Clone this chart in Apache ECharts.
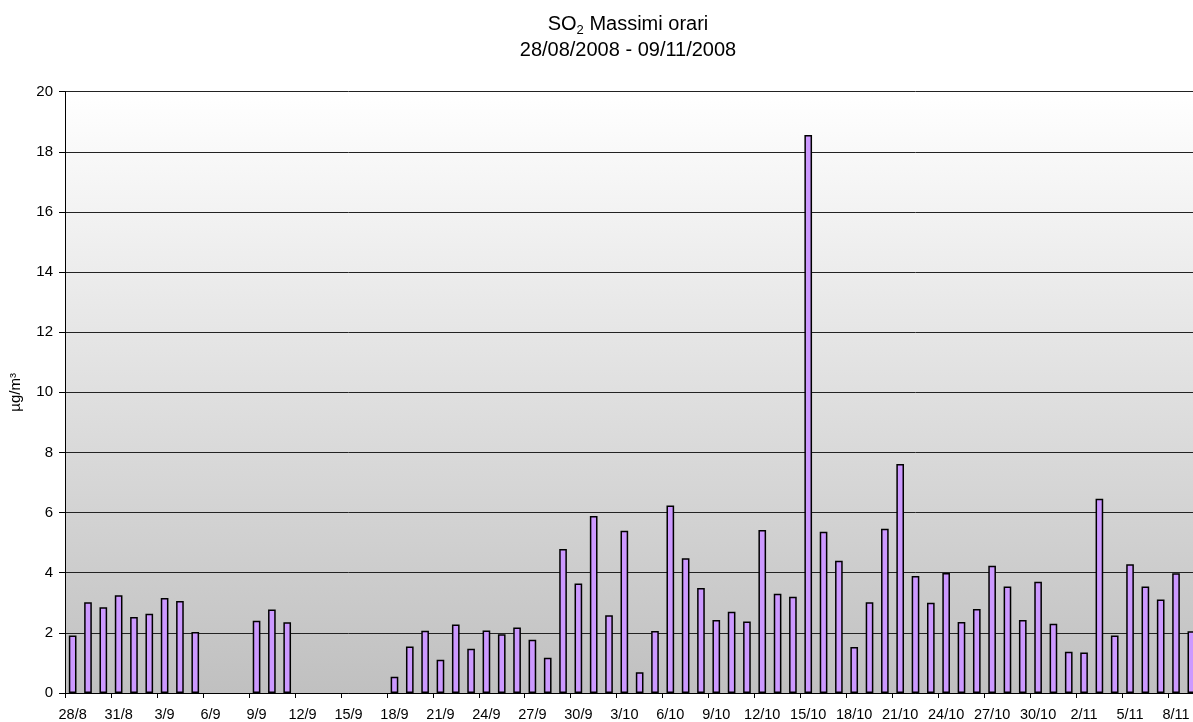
<!DOCTYPE html>
<html>
<head>
<meta charset="utf-8">
<script src="https://cdn.jsdelivr.net/npm/echarts@6/dist/echarts.min.js"></script>
<style>
html,body{margin:0;padding:0;background:#fff;overflow:hidden;width:1193px;height:722px;}
#chart{width:1200px;height:722px;}
</style>
</head>
<body>
<div id="chart"></div>
<script>
const categories = [
 '28/8','29/8','30/8','31/8',
 '1/9','2/9','3/9','4/9','5/9','6/9','7/9','8/9','9/9','10/9','11/9','12/9','13/9','14/9','15/9','16/9','17/9','18/9','19/9','20/9','21/9','22/9','23/9','24/9','25/9','26/9','27/9','28/9','29/9','30/9',
 '1/10','2/10','3/10','4/10','5/10','6/10','7/10','8/10','9/10','10/10','11/10','12/10','13/10','14/10','15/10','16/10','17/10','18/10','19/10','20/10','21/10','22/10','23/10','24/10','25/10','26/10','27/10','28/10','29/10','30/10','31/10',
 '1/11','2/11','3/11','4/11','5/11','6/11','7/11','8/11','9/11'
];
const so2Max = [
 1.91, 3.02, 2.85, 3.25,
 2.53, 2.64, 3.16, 3.06, 2.03, null, null, null, 2.40, 2.78, 2.35, null, null, null, null, null, null, 0.54, 1.55, 2.07, 1.11, 2.28, 1.47, 2.08, 1.95, 2.18, 1.77, 1.17, 4.79, 3.64,
 5.89, 2.59, 5.40, 0.69, 2.06, 6.24, 4.48, 3.49, 2.43, 2.70, 2.38, 5.42, 3.30, 3.20, 18.56, 5.36, 4.40, 1.53, 3.02, 5.46, 7.62, 3.89, 3.00, 3.99, 2.36, 2.79, 4.23, 3.54, 2.43, 3.70, 2.30,
 1.37, 1.35, 6.46, 1.91, 4.28, 3.54, 3.11, 3.98, 2.05
];
const titleLine1 = ['SO', '2', ' Massimi orari'];
const titleLine2 = '28/08/2008 - 09/11/2008';
const yAxisName = 'µg/m³';

const FONT = '"Liberation Sans", Arial, sans-serif';
const chart = echarts.init(document.getElementById('chart'), null, {renderer: 'canvas'});
chart.setOption({
  animation: false,
  backgroundColor: '#ffffff',
  textStyle: {fontFamily: FONT},
  title: {
    text: '{a|' + titleLine1[0] + '}{b|' + titleLine1[1] + '}{a|' + titleLine1[2] + '}\n{a|' + titleLine2 + '}',
    left: 623,
    top: 6,
    textAlign: 'center',
    textStyle: {
      fontFamily: FONT,
      fontWeight: 'normal',
      color: '#000',
      rich: {
        a: {fontFamily: FONT, fontSize: 20, lineHeight: 26, color: '#000'},
        b: {fontFamily: FONT, fontSize: 13, lineHeight: 16, verticalAlign: 'bottom', color: '#000'}
      }
    }
  },
  grid: {
    left: 65,
    width: 1134,
    top: 91.7,
    height: 601.6,
    show: true,
    borderWidth: 0,
    backgroundColor: {
      type: 'linear', x: 0, y: 0, x2: 0, y2: 1,
      colorStops: [{offset: 0, color: '#ffffff'}, {offset: 1, color: '#c0c0c0'}]
    }
  },
  xAxis: {
    type: 'category',
    data: categories,
    boundaryGap: true,
    axisLine: {lineStyle: {color: '#000', width: 1}},
    axisTick: {show: true, interval: 2, length: 5, alignWithLabel: false, lineStyle: {color: '#000'}},
    axisLabel: {interval: 2, color: '#000', fontSize: 14.5, fontFamily: FONT, margin: 14, hideOverlap: false},
    splitLine: {show: false}
  },
  yAxis: {
    type: 'value',
    min: 0,
    max: 20,
    interval: 2,
    name: yAxisName,
    nameLocation: 'middle',
    nameGap: 42,
    nameRotate: 90,
    nameTextStyle: {color: '#000', fontSize: 15, fontFamily: FONT},
    axisLine: {show: true, lineStyle: {color: '#000', width: 1}},
    axisTick: {show: true, length: 6, lineStyle: {color: '#000'}},
    axisLabel: {color: '#000', fontSize: 15, fontFamily: FONT, margin: 12},
    splitLine: {show: true, lineStyle: {color: '#222', width: 1}}
  },
  series: [{
    type: 'bar',
    data: so2Max,
    barWidth: '50%',
    itemStyle: {color: '#cc99ff', borderColor: '#000', borderWidth: 1.5}
  }]
});
</script>
</body>
</html>
